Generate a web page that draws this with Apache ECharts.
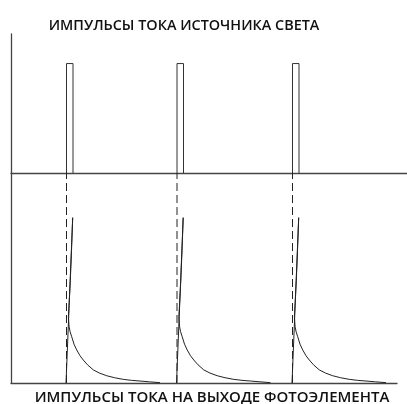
<!DOCTYPE html>
<html><head><meta charset="utf-8">
<script src="https://cdn.jsdelivr.net/npm/echarts@6/dist/echarts.min.js"></script>
<style>html,body{margin:0;padding:0;background:#fff}#c{width:407px;height:404px}</style>
</head><body><div id="c"></div>
<script>
// titles
var topTitle = 'ИМПУЛЬСЫ ТОКА ИСТОЧНИКА СВЕТА';
var bottomTitle = 'ИМПУЛЬСЫ ТОКА НА ВЫХОДЕ ФОТОЭЛЕМЕНТА';
// pulse start times (arbitrary time units) and source pulse width / amplitude
var pulseStarts = [55.5, 166, 281.5];
var pulseWidth = 6.5;
var pulseAmp = 1;
// photo-cell response profile: time offset from pulse start, amplitude
var respT = [-0.5, 6.2, 5.0, 3.8, 2.6, 1.9, 2.6, 3.6, 5.2, 7.5, 10.2, 13.5, 16.8, 21, 26.8, 33, 40.2, 48, 56.8, 65, 73.5, 83, 93.5];
var respV = [0, 1.0, 0.80, 0.62, 0.48, 0.40, 0.34, 0.31, 0.28, 0.235, 0.2, 0.165, 0.139, 0.11, 0.079, 0.06, 0.044, 0.032, 0.022, 0.016, 0.012, 0.007, 0.002];
// axis ranges
var topXMax = 396, botXMax = 386, yMax = 1.27;

var axisCol = '#444';
var series = [];
pulseStarts.forEach(function (s) {
  series.push({type:'line', xAxisIndex:0, yAxisIndex:0, symbol:'none', animation:false,
    lineStyle:{color:'#333', width:1},
    data:[[s,0],[s,pulseAmp],[s+pulseWidth,pulseAmp],[s+pulseWidth,0]]});
  series.push({type:'line', xAxisIndex:1, yAxisIndex:1, symbol:'none', animation:false,
    lineStyle:{color:'#222', width:1, type:[8,4]},
    data:[[s,0],[s,yMax]]});
  series.push({type:'line', xAxisIndex:1, yAxisIndex:1, symbol:'none', animation:false,
    lineStyle:{color:'#222', width:1},
    data:respT.map(function(t,i){return [s+t, respV[i]];})});
});

var chart = echarts.init(document.getElementById('c'), null, {renderer:'canvas'});
function ax(idx, max) {
  return {type:'value', gridIndex:idx, min:0, max:max,
    axisLine:{show:true, onZero:false, lineStyle:{color:axisCol, width:1.3}},
    axisTick:{show:false}, axisLabel:{show:false}, splitLine:{show:false}};
}
chart.setOption({
  backgroundColor:'#fff',
  title:[
    {text:topTitle, left:179, top:14, textAlign:'center',
      textStyle:{fontFamily:'Open Sans', fontSize:14.4, fontWeight:600, color:'#111'}},
    {text:bottomTitle, left:207, top:385, textAlign:'center',
      textStyle:{fontFamily:'Open Sans', fontSize:15, fontWeight:600, color:'#111'}}
  ],
  grid:[
    {left:11, right:0, top:34, height:139},
    {left:11, right:10, top:173, height:210}
  ],
  xAxis:[ax(0, topXMax), ax(1, botXMax)],
  yAxis:[ax(0, yMax), ax(1, yMax)],
  series: series
});
</script></body></html>
